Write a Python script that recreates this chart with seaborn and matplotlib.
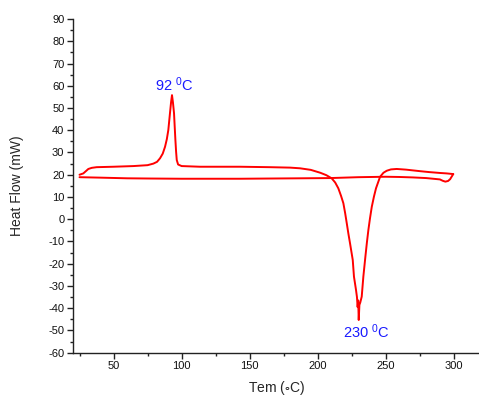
import numpy as np
import pandas as pd
import matplotlib
matplotlib.use("Agg")
import matplotlib.pyplot as plt
import seaborn as sns
from matplotlib.ticker import MultipleLocator

# heating scan
heat_temp = [25, 27.8, 31.5, 34, 37.6, 50, 64.6, 75, 79.3, 82, 84.2, 86.2, 87.9, 89.2, 90.3,
             91.5, 92.3, 93, 93.7, 94.5, 95, 95.5, 96, 96.5, 97.5, 100.1, 113.6, 143,
             165, 179.8, 187.1, 195, 202, 206.5, 210.4, 213, 215.3, 217.3, 219, 220.3, 221.5,
             222.7, 223.9, 225.9, 226.8, 228.3, 229.0, 229.5, 229.9, 230.3, 230.8, 231.4, 232.5,
             233.7, 235.2, 236.3, 237.4, 238.6, 239.9, 241.5, 243, 246, 248.5, 250.9, 254, 258.2,
             265, 275.5, 282, 290, 295, 299.8]
heat_flow = [20.0, 20.6, 22.6, 23.1, 23.4, 23.6, 23.9, 24.3, 25.0, 25.8, 27.4, 29.5, 32.6, 36, 40.1,
             47.6, 52.5, 55.8, 52.5, 47.6, 41.5, 35.6, 30.5, 26.6, 24.6, 23.9, 23.6, 23.6,
             23.4, 23.2, 22.9, 22.2, 20.9, 19.8, 18.4, 16.5, 13.9, 10.5, 7.2, 2.8, -1.8,
             -6.5, -10.8, -18.3, -25.8, -31.8, -35, -39.5, -36.5, -45.3, -38.5, -37.5, -34.8,
             -25.8, -16.8, -10.5, -4.8, 0.5, 5.6, 10.2, 13.9, 19.1, 20.9, 21.8, 22.4, 22.6,
             22.3, 21.6, 21.2, 20.8, 20.6, 20.3]

# cooling scan
cool_temp = [299.8, 299, 297.5, 296, 294, 292, 290, 280, 270, 260, 250, 230, 209, 187,
             143, 100, 77, 60, 40, 25]
cool_flow = [20.3, 19.5, 18.0, 17.2, 16.9, 17.3, 17.9, 18.5, 18.8, 19.0, 19.1, 18.9, 18.5,
             18.4, 18.2, 18.2, 18.3, 18.4, 18.7, 18.9]

peak_labels = ["92 $^{0}$C", "230 $^{0}$C"]
peak_pos = [(95, 60.5), (236.2, -50.5)]

sns.set_style("ticks")
plt.rcParams["font.family"] = ["Liberation Sans", "DejaVu Sans"]
plt.rcParams["mathtext.default"] = "regular"
plt.rcParams["axes.unicode_minus"] = False

fig = plt.figure(figsize=(4.79, 3.98), dpi=100)
ax = fig.add_axes([0.1518, 0.1138, 0.8518, 0.8384])

heat = pd.DataFrame({"T": heat_temp, "HF": heat_flow})
cool = pd.DataFrame({"T": cool_temp, "HF": cool_flow})
sns.lineplot(data=heat, x="T", y="HF", sort=False, estimator=None, color="#ff0000",
             lw=1.4, ax=ax)
sns.lineplot(data=cool, x="T", y="HF", sort=False, estimator=None, color="#ff0000",
             lw=1.4, ax=ax)

for txt, (x, y) in zip(peak_labels, peak_pos):
    ax.text(x, y, txt, color="#1a1aff", fontsize=10.5, ha="center", va="center")

ax.set_xlim(20, 320)
ax.set_ylim(-60, 90)
ax.xaxis.set_minor_locator(MultipleLocator(25))
ax.yaxis.set_major_locator(MultipleLocator(10))
ax.yaxis.set_minor_locator(MultipleLocator(5))
ax.set_xticks([50, 100, 150, 200, 250, 300])

sns.despine(ax=ax)
for s in ["left", "bottom"]:
    ax.spines[s].set_color("#222222")
    ax.spines[s].set_linewidth(1.0)
ax.tick_params(which="major", length=4, width=1, color="#222222", labelsize=8,
               labelcolor="#111111", pad=2)
ax.tick_params(which="minor", length=2.5, width=1, color="#222222")

ax.set_xlabel("Tem ($\\circ$C)", fontsize=10)
ax.set_ylabel("Heat Flow (mW)", fontsize=10)
ax.yaxis.set_label_coords(-0.12, 0.5)
ax.xaxis.set_label_coords(0.5, -0.078)

fig.savefig("out.png", dpi=100)
